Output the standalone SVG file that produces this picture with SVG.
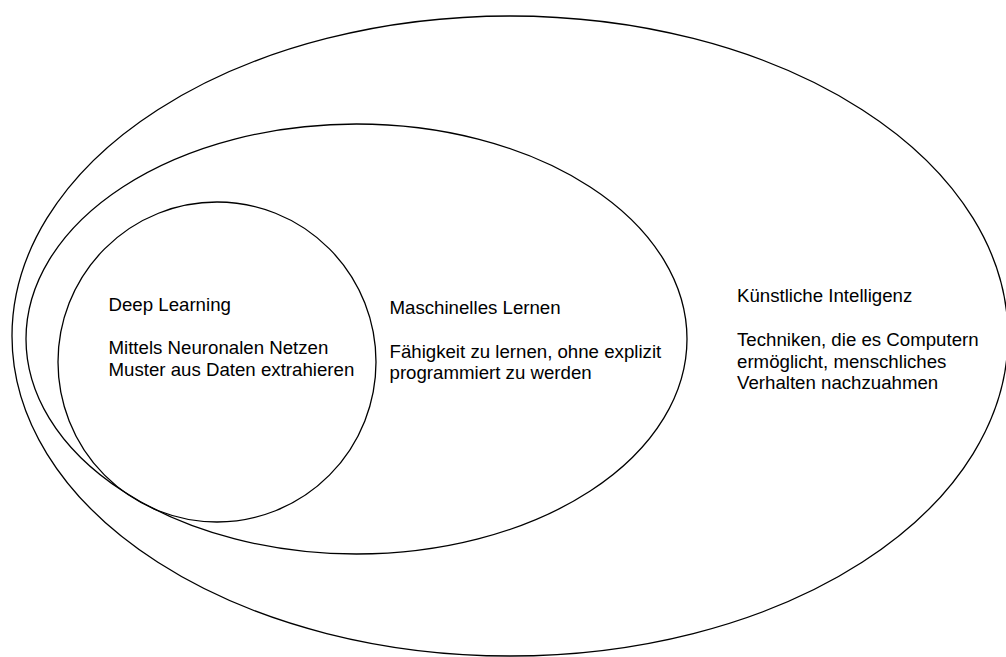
<svg xmlns="http://www.w3.org/2000/svg" width="1006" height="657" viewBox="0 0 1006 657">
<style>
.s{fill:none;stroke:#000;stroke-width:1.3}
.t{font-family:"Liberation Sans",Arial,sans-serif;font-size:18.67px;fill:#000}
</style>
<rect width="1006" height="657" fill="#fff"/>
<g id="ki"><ellipse class="s" cx="510" cy="336" rx="498" ry="320"/>
<text class="t" x="737" y="302">Künstliche Intelligenz</text>
<text class="t" x="737" y="346">Techniken, die es Computern</text>
<text class="t" x="737" y="367.5">ermöglicht, menschliches</text>
<text class="t" x="737" y="389">Verhalten nachzuahmen</text></g>
<g id="ml"><ellipse class="s" cx="356.5" cy="339" rx="330.5" ry="215"/>
<text class="t" x="389.5" y="314">Maschinelles Lernen</text>
<text class="t" x="389.5" y="358">Fähigkeit zu lernen, ohne explizit</text>
<text class="t" x="389.5" y="379">programmiert zu werden</text></g>
<g id="dl"><ellipse class="s" cx="217" cy="362" rx="159" ry="160"/>
<text class="t" x="108.5" y="310.5">Deep Learning</text>
<text class="t" x="108.5" y="354">Mittels Neuronalen Netzen</text>
<text class="t" x="108.5" y="375.5">Muster aus Daten extrahieren</text></g>
<g id="connectors"/>
</svg>
